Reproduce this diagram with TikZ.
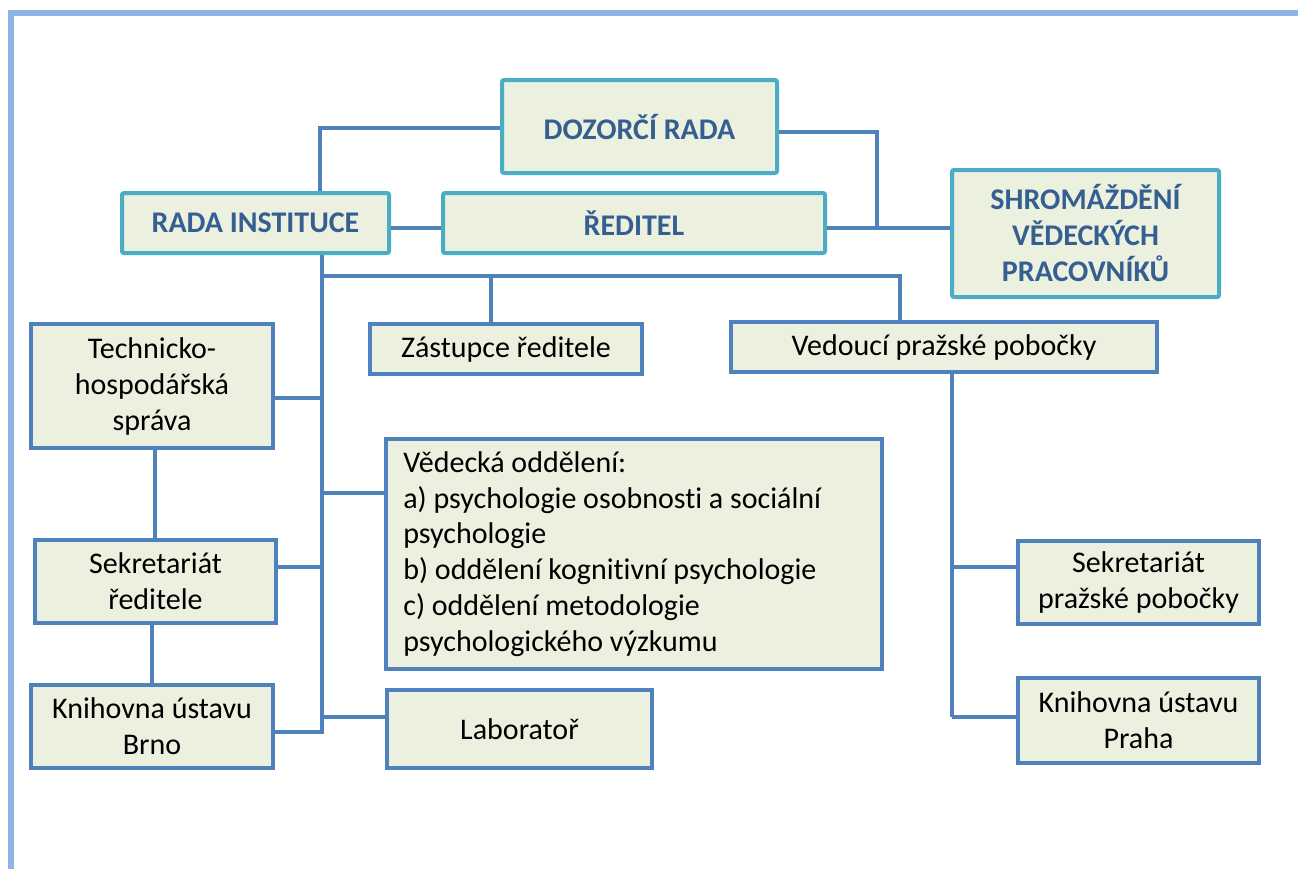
\documentclass[tikz,border=0pt]{standalone}
\usepackage{fontspec}
\setmainfont{Carlito}[RawFeature={-liga;-clig;-dlig;-calt}]
\definecolor{framecol}{HTML}{8EB4E3}
\definecolor{linecol}{HTML}{4F81BD}
\definecolor{topcol}{HTML}{4BACC6}
\definecolor{fillcol}{HTML}{EBF1DE}
\definecolor{headcol}{HTML}{365F91}
\tikzset{
  topbox/.style={draw=topcol, line width=3pt, fill=fillcol, rounded corners=1.5pt,
    font=\fontsize{22.5}{27}\selectfont\bfseries, text=headcol, align=center, inner sep=0pt},
  lowbox/.style={draw=linecol, line width=2.4pt, fill=fillcol,
    font=\fontsize{22.5}{27}\selectfont, align=center, inner sep=0pt},
  conn/.style={draw=linecol, line width=2.6pt},
}
\begin{document}
\begin{tikzpicture}[x=0.75pt,y=-0.75pt]
\useasboundingbox (0,0) rectangle (1298,869);
\draw[framecol, line width=4.5pt] (11,869) -- (11,13) -- (1298,13);

% helper coordinates
\coordinate (x320) at (320,0);
\coordinate (x322) at (322,0);
\coordinate (x491) at (491,0);
\coordinate (x900) at (900,0);
\coordinate (x952) at (952,0);
\coordinate (x155) at (155,0);
\coordinate (x152) at (152,0);
\coordinate (y128) at (0,128);
\coordinate (y132) at (0,132);
\coordinate (y228) at (0,228);
\coordinate (y276) at (0,276);
\coordinate (y398) at (0,398);
\coordinate (y493) at (0,493);
\coordinate (y567) at (0,567);
\coordinate (y717) at (0,717);
\coordinate (y732) at (0,732);
\coordinate (trunkend) at (322,734);
\coordinate (junc) at (877,228);
\coordinate (pragend) at (952,717);

% top boxes
\node[topbox, minimum width=206.25pt, minimum height=69.75pt] (dozorci) at (639.5,126.5) {DOZORČÍ RADA};
\node[topbox, minimum width=286.5pt, minimum height=45pt] (reditel) at (634,223) {ŘEDITEL};
\node[topbox, minimum width=200.25pt, minimum height=45pt] (rada) at (255.5,223) {RADA INSTITUCE};
\node[topbox, minimum width=200.25pt, minimum height=95.25pt] (shrom) at (1085.5,233.5) {SHROMÁŽDĚNÍ\\VĚDECKÝCH\\PRACOVNÍKŮ};

% lower boxes
\node[lowbox, minimum width=204pt, minimum height=37.5pt] (zast) at (506,349) {Zástupce ředitele};
\node[lowbox, minimum width=319.5pt, minimum height=37.5pt] (vedouci) at (944,347) {Vedoucí pražské pobočky};
\node[lowbox, minimum width=181.5pt, minimum height=93pt] (tech) at (152,386) {Technicko-\\hospodářská\\správa};
\node[lowbox, minimum width=180.75pt, minimum height=62.25pt] (sekr) at (155.5,581.5) {Sekretariát\\ředitele};
\node[lowbox, minimum width=181.5pt, minimum height=62.25pt] (knb) at (152,726.5) {Knihovna ústavu\\Brno};
\node[lowbox, minimum width=198.75pt, minimum height=58.5pt] (lab) at (519.5,729) {Laboratoř};
\node[lowbox, minimum width=372pt, minimum height=172.5pt, text width=346pt, align=flush left,
  font=\fontsize{22.5}{26.8}\selectfont] (ved) at (634,554) {Vědecká oddělení:\\a) psychologie osobnosti a sociální\\psychologie\\b) oddělení kognitivní psychologie\\c) oddělení metodologie\\psychologického výzkumu};
\node[lowbox, minimum width=180.75pt, minimum height=62.25pt] (skp) at (1138.5,582.5) {Sekretariát\\pražské pobočky};
\node[lowbox, minimum width=180.75pt, minimum height=63.75pt] (knp) at (1138.5,720.5) {Knihovna ústavu\\Praha};

% connectors
\draw[conn] (dozorci.west |- y128) -| (rada.north -| x320);
\draw[conn] (dozorci.east |- y132) -| (junc);
\draw[conn] (rada.east |- y228) -- (reditel.west |- y228);
\draw[conn] (reditel.east |- y228) -- (shrom.west |- y228);
\draw[conn] (rada.south -| x322) -- (trunkend);
\draw[conn] (x322 |- y276) -| (vedouci.north -| x900);
\draw[conn] (x491 |- y276) -- (zast.north -| x491);
\draw[conn] (tech.east |- y398) -- (x322 |- y398);
\draw[conn] (sekr.east |- y567) -- (x322 |- y567);
\draw[conn] (ved.west |- y493) -- (x322 |- y493);
\draw[conn] (lab.west |- y717) -- (x322 |- y717);
\draw[conn] (knb.east |- y732) -- (x322 |- y732);
\draw[conn] (tech.south -| x155) -- (sekr.north -| x155);
\draw[conn] (sekr.south -| x152) -- (knb.north -| x152);
\draw[conn] (vedouci.south -| x952) -- (pragend);
\draw[conn] (pragend) -- (knp.west |- y717);
\draw[conn] (x952 |- y567) -- (skp.west |- y567);
\end{tikzpicture}
\end{document}
